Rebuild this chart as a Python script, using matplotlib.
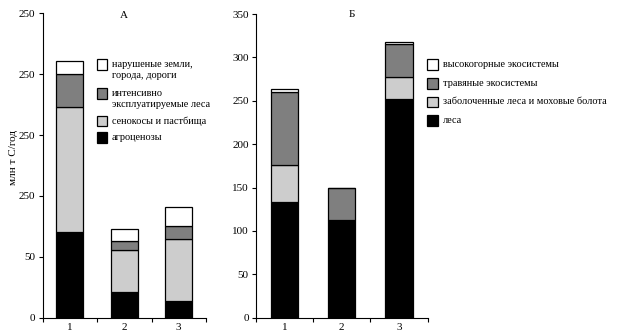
import matplotlib
matplotlib.use("Agg")
import matplotlib.pyplot as plt
from matplotlib.patches import Rectangle
import numpy as np

plt.rcParams['font.family'] = ['Liberation Serif', 'DejaVu Serif']
plt.rcParams['font.size'] = 8

categories = ['1', '2', '3']

# Panel А (stack order bottom -> top)
a_labels = ['агроценозы', 'сенокосы и пастбища',
            'интенсивно\nэксплуатируемые леса', 'нарушеные земли,\nгорода, дороги']
a_agro = [70, 21, 14]
a_hay = [103, 35, 51]
a_forest = [27, 7, 10.5]
a_disturbed = [10.5, 9.5, 15.5]
a_yticks = [0, 50, 100, 150, 200, 250]
a_yticklabels = ['0', '50', '250', '250', '250', '250']

# Panel Б (stack order bottom -> top)
b_labels = ['леса', 'заболоченные леса и моховые болота',
            'травяные экосистемы', 'высокогорные экосистемы']
b_forest = [133, 113, 252]
b_swamp = [43.5, 0, 25]
b_grass = [83.5, 37, 38]
b_mountain = [3, 0, 2.5]
b_yticks = [0, 50, 100, 150, 200, 250, 300, 350]

colors = ['#000000', '#cdcdcd', '#7f7f7f', '#ffffff']

W, H = 620, 333
fig = plt.figure(figsize=(W / 100, H / 100), dpi=100)

def px_axes(l, r, t, b):
    return fig.add_axes([l / W, 1 - b / H, (r - l) / W, (b - t) / H])

axA = px_axes(42.5, 206, 13.3, 317.7)
axB = px_axes(255.7, 427.7, 14, 317.7)

def draw(ax, series, width):
    x = np.arange(1, len(categories) + 1)
    bottom = np.zeros(len(categories))
    for vals, c in zip(series, colors):
        ax.bar(x, vals, width, bottom=bottom, color=c, edgecolor='black', linewidth=0.9)
        bottom += np.array(vals)
    ax.set_xlim(0.5, len(categories) + 0.5)
    ax.set_xticks(x)
    ax.set_xticklabels(categories)
    ax.set_xticks(np.arange(0.5, len(categories) + 1.0, 1.0), minor=True)
    ax.tick_params(axis='x', which='major', length=0, pad=4)
    ax.tick_params(axis='x', which='minor', length=3, width=0.8, direction='out')
    ax.tick_params(axis='y', length=3, width=0.8, direction='out', pad=2)
    for s in ['top', 'right']:
        ax.spines[s].set_visible(False)
    for s in ['left', 'bottom']:
        ax.spines[s].set_linewidth(0.8)

def legend(labels, box_x, tops, text_x, size=10.5, line_h=11.3, fs=7.4):
    # labels drawn top -> bottom in reverse stack order
    for lab, c, top in zip(labels[::-1], colors[::-1], tops):
        fig.add_artist(Rectangle((box_x / W, 1 - (top + size) / H), size / W, size / H,
                                 transform=fig.transFigure, facecolor=c,
                                 edgecolor='black', linewidth=0.9))
        yc = top + size / 2
        for k, line in enumerate(lab.split('\n')):
            fig.text(text_x / W, 1 - (yc + k * line_h) / H, line, ha='left',
                     va='center', fontsize=fs)

draw(axA, [a_agro, a_hay, a_forest, a_disturbed], 0.5)
axA.set_ylim(0, 250)
axA.set_yticks(a_yticks)
axA.set_yticklabels(a_yticklabels)
axA.set_ylabel('млн т С/год')
axA.yaxis.set_label_coords(-0.148, 0.525)
axA.text(0.5, 0.993, 'А', transform=axA.transAxes, ha='center', va='center')
legend(a_labels, 96.7, [59, 88.3, 115.7, 132.3], 111.7)

draw(axB, [b_forest, b_swamp, b_grass, b_mountain], 0.48)
axB.set_ylim(0, 350)
axB.set_yticks(b_yticks)
axB.text(0.56, 0.997, 'Б', transform=axB.transAxes, ha='center', va='center')
legend(b_labels, 427.3, [59, 78.3, 96.7, 115], 442.7)

fig.savefig('out.png', dpi=100)
